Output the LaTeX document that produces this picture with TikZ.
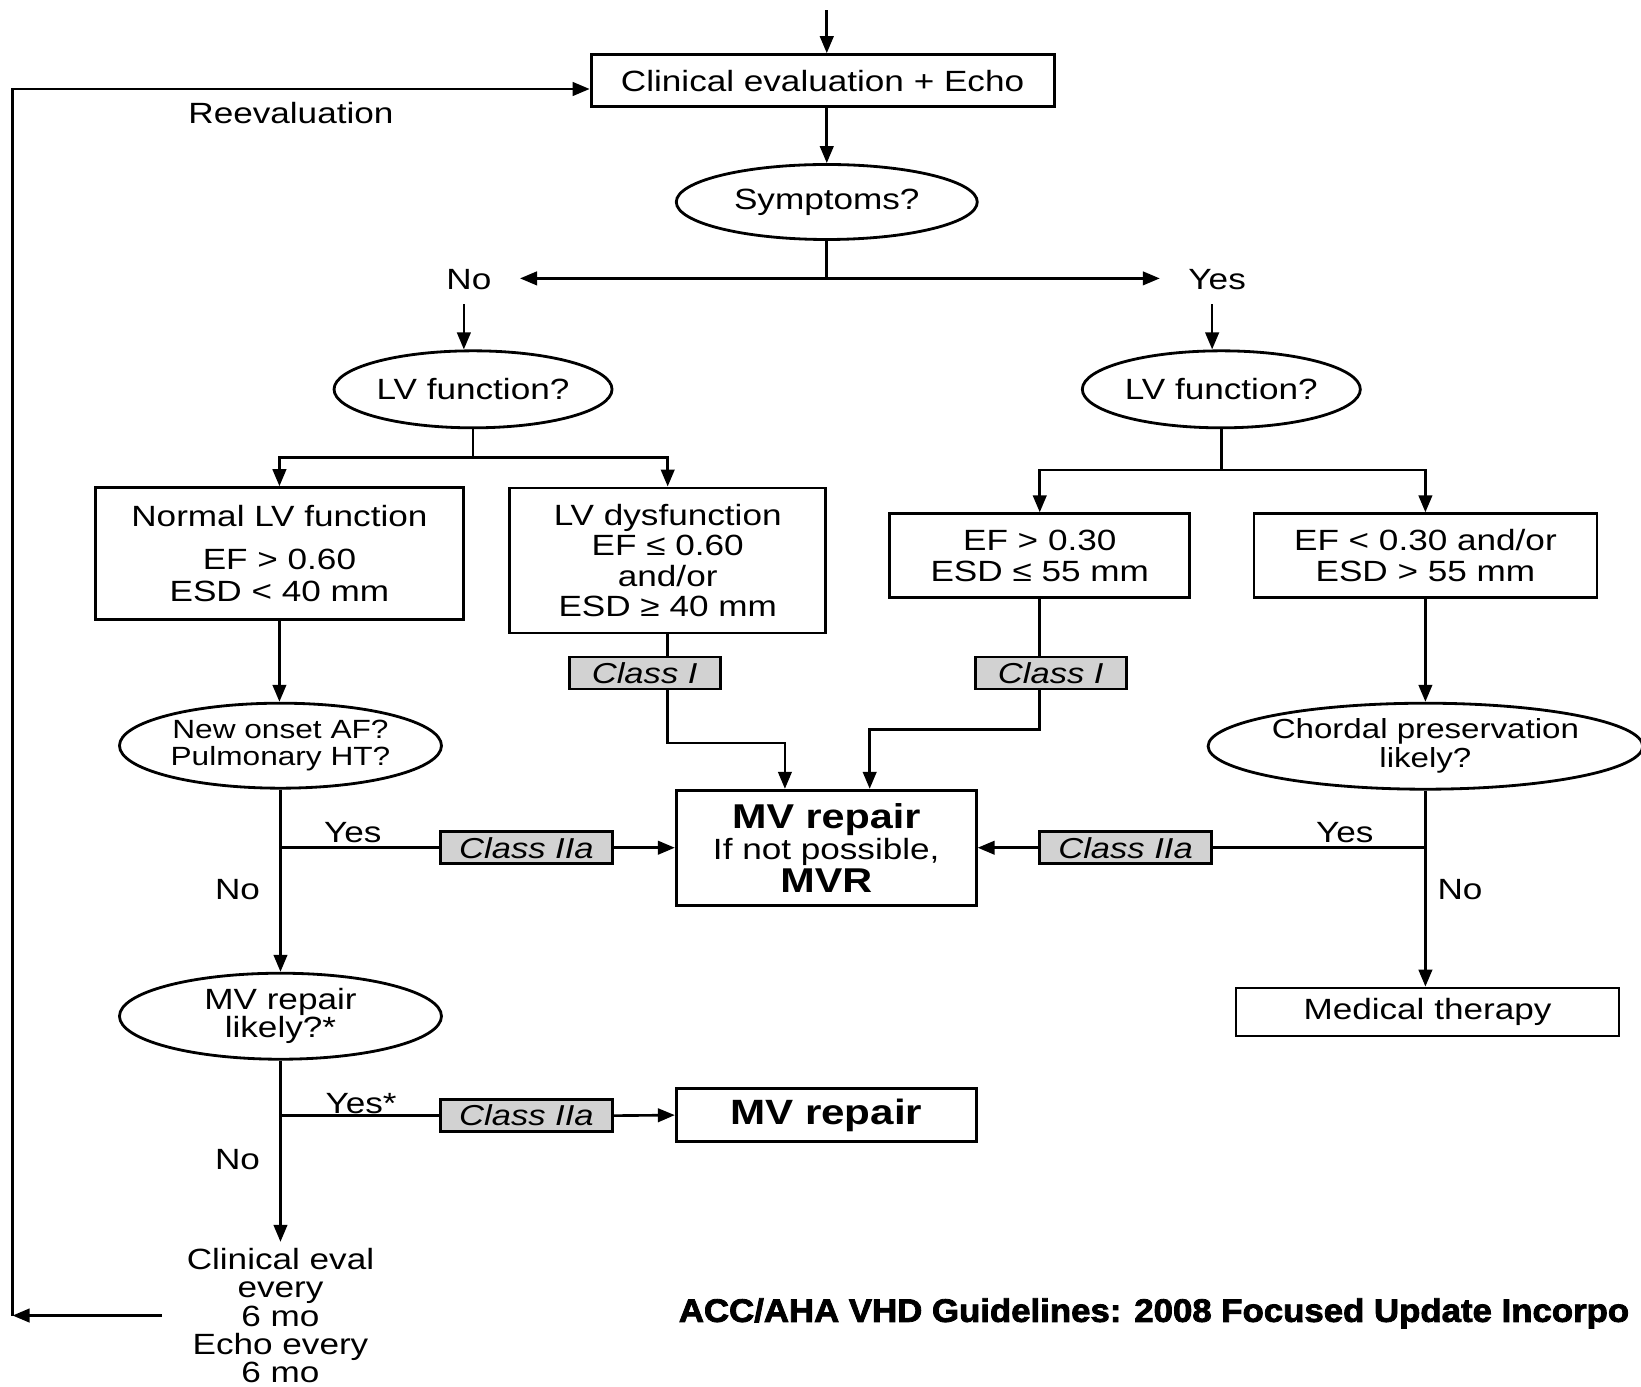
\documentclass[tikz,border=0pt]{standalone}
\usepackage{fontspec}
\setmainfont{Liberation Sans}[FakeStretch=1.2]
\newfontfamily\footfont{Liberation Sans}[FakeStretch=1.07, BoldFeatures={FakeBold=2.5}]
\usepackage{tikz}
\usetikzlibrary{shapes.geometric, arrows.meta, positioning, calc}
\definecolor{classgray}{RGB}{210, 210, 210}
\lineskiplimit=-5pt

\begin{document}
\begin{tikzpicture}[
    x=0.10466mm, y=-0.10466mm,
    font=\fontsize{8.33}{9.2}\selectfont,
    box/.style={rectangle, draw, line width=0.8pt, align=center, inner sep=0pt},
    query/.style={ellipse, draw, line width=0.8pt, align=center, inner sep=0pt},
    classbox/.style={rectangle, draw, line width=0.8pt, fill=classgray, minimum height=3.2mm, inner sep=0pt, font=\fontsize{8.2}{9}\selectfont\itshape},
    lbl/.style={inner sep=0pt},
    link/.style={line width=0.75pt},
    arrow/.style={link, -{Triangle[length=1.7mm, width=1.35mm]}}
]
    \useasboundingbox (0,0) rectangle (1568,1325);

    % Entry and symptoms
    \coordinate (entry) at (790,10);
    \node[box, minimum width=46.3mm, minimum height=5.2mm] (eval) at (786,77) {Clinical evaluation + Echo};
    \node[lbl] (reeval) at (278,108) {Reevaluation};
    \node[query, minimum width=30.1mm, minimum height=7.5mm] (symp) at (790,193) {Symptoms?};
    \coordinate (fork) at (790,266);
    \node[lbl] (no) at (448,267) {No};
    \node[lbl] (yes) at (1163,267) {Yes};

    % LV function
    \node[query, minimum width=27.8mm, minimum height=7.7mm] (lvl) at (452,372) {LV function?};
    \node[query, minimum width=27.8mm, minimum height=7.7mm] (lvr) at (1167,372) {LV function?};
    \coordinate (lvlfork) at (452,437);
    \coordinate (lvrfork) at (1167,449);

    \node[box, minimum width=36.8mm, minimum height=13.2mm] (normal) at (267,529) {Normal LV function\\[1.1mm] EF > 0.60\\ ESD < 40 mm};
    \node[box, minimum width=31.6mm, minimum height=14.5mm, font=\fontsize{8.33}{8.7}\selectfont] (dysf) at (638,535.5) {LV dysfunction\\ EF ≤ 0.60\\ and/or\\ ESD ≥ 40 mm};
    \node[box, minimum width=30mm, minimum height=8.4mm, font=\fontsize{8.33}{8.7}\selectfont] (efhi) at (993.5,531) {EF > 0.30\\ ESD ≤ 55 mm};
    \node[box, minimum width=34.3mm, minimum height=8.4mm, font=\fontsize{8.33}{8.7}\selectfont] (eflo) at (1362,531) {EF < 0.30 and/or\\ ESD > 55 mm};

    % Class I
    \node[classbox, minimum width=15.1mm] (c1a) at (616,643) {Class I};
    \node[classbox, minimum width=15.1mm] (c1b) at (1004,643) {Class I};
    \coordinate (bendA) at (750,710);
    \coordinate (bendB) at (831,697);

    % Second questions
    \node[query, minimum width=32.2mm, minimum height=8.5mm, font=\fontsize{7.5}{7.5}\selectfont] (onset) at (268,712.5) {New onset AF?\\ Pulmonary HT?};
    \node[query, minimum width=42.9mm, minimum height=8.6mm, font=\fontsize{7.85}{8.3}\selectfont] (chord) at (1362,713) {Chordal preservation\\ likely?};
    \node[box, minimum width=30mm, minimum height=11.5mm, font=\fontsize{8.33}{8.8}\selectfont] (mvr) at (789.5,810) {{\bfseries\fontsize{9.8}{8.8}\selectfont MV repair}\\ If not possible,\\[0.2mm] {\bfseries\fontsize{9.8}{8.8}\selectfont MVR}};

    % Class IIa
    \node[classbox, minimum width=17.2mm] (c2a) at (503,810) {Class IIa};
    \node[classbox, minimum width=17.2mm] (c2b) at (1075.5,810) {Class IIa};
    \node[classbox, minimum width=17.2mm] (c2c) at (503,1066) {Class IIa};

    \node[lbl] (yesa) at (337,796) {Yes};
    \node[lbl] (noa) at (227,850) {No};
    \node[lbl] (yesb) at (1285,796) {Yes};
    \node[lbl] (nob) at (1395,850) {No};
    \node[lbl] (yesc) at (345,1054) {Yes*};
    \node[lbl] (noc) at (227,1108) {No};

    \node[box, minimum width=38.3mm, minimum height=4.8mm] (medical) at (1364,967) {Medical therapy};
    \node[query, minimum width=32.2mm, minimum height=8.6mm, font=\fontsize{8.33}{8}\selectfont] (likely) at (268,971) {MV repair\\ likely?*};
    \node[box, minimum width=30mm, minimum height=5.3mm, font=\fontsize{10}{11}\selectfont\bfseries] (repair) at (789.5,1065.5) {MV repair};

    % Follow-up and source
    \node[lbl, align=center, font=\fontsize{8.33}{8}\selectfont] (follow) at (268,1257) {Clinical eval\\ every\\ 6 mo\\ Echo every\\ 6 mo};
    \coordinate (loop) at (12,1257);
    \node[lbl, anchor=west, font=\footfont\bfseries\fontsize{9.25}{10}\selectfont] (source) at (648,1255) {ACC/AHA VHD Guidelines: 2008 Focused Update Incorpo};

    % Top flow
    \draw[arrow] (entry) -- (entry |- eval.north);
    \draw[arrow] (eval.south -| symp) -- (symp.north);
    \draw[link] (symp.south) -- (fork);
    \draw[arrow, shorten >=2.8mm] (fork) -- (fork -| no.east);
    \draw[arrow, shorten >=2.8mm] (fork) -- (fork -| yes.west);
    \draw[arrow, shorten <=1.4mm] ([xshift=-0.5mm]no.south) -- ([xshift=-0.5mm]no.south |- lvl.north);
    \draw[arrow, shorten <=1.4mm] ([xshift=-0.5mm]yes.south) -- ([xshift=-0.5mm]yes.south |- lvr.north);

    % LV branches
    \draw[link] (lvl.south) -- (lvlfork);
    \draw[arrow] (lvlfork) -| (normal.north);
    \draw[arrow] (lvlfork) -| (dysf.north);
    \draw[link] (lvr.south) -- (lvrfork);
    \draw[arrow] (lvrfork) -| (efhi.north);
    \draw[arrow] (lvrfork) -| (eflo.north);

    % Into MV repair
    \draw[arrow] (normal.south) -- (normal.south |- onset.north);
    \draw[link] (dysf.south) -- (dysf.south |- c1a.north);
    \draw[arrow] (dysf.south |- c1a.south) |- (bendA) -- (bendA |- mvr.north);
    \draw[link] (efhi.south) -- (efhi.south |- c1b.north);
    \draw[arrow] (efhi.south |- c1b.south) |- (bendB) -- (bendB |- mvr.north);
    \draw[arrow] (eflo.south) -- (chord.north);
    \draw[arrow] (chord.south) -- (chord.south |- medical.north);
    \draw[link] (chord.south |- c2b) -- (c2b.east);
    \draw[arrow] (c2b.west) -- (mvr.east);
    \draw[arrow] (onset.south) -- (onset.south |- likely.north);
    \draw[link] (onset.south |- c2a) -- (c2a.west);
    \draw[arrow] (c2a.east) -- (mvr.west);
    \draw[arrow, shorten >=0.6mm] (likely.south) -- (likely.south |- follow.north);
    \draw[link] (likely.south |- c2c) -- (c2c.west);
    \draw[arrow] (c2c.east) -- (repair.west);

    % Reevaluation loop
    \draw[arrow, shorten <=2.4mm] (follow.west |- loop) -- (loop);
    \draw[arrow] (loop) |- ([yshift=-0.84mm]eval.west);

\end{tikzpicture}
\end{document}
